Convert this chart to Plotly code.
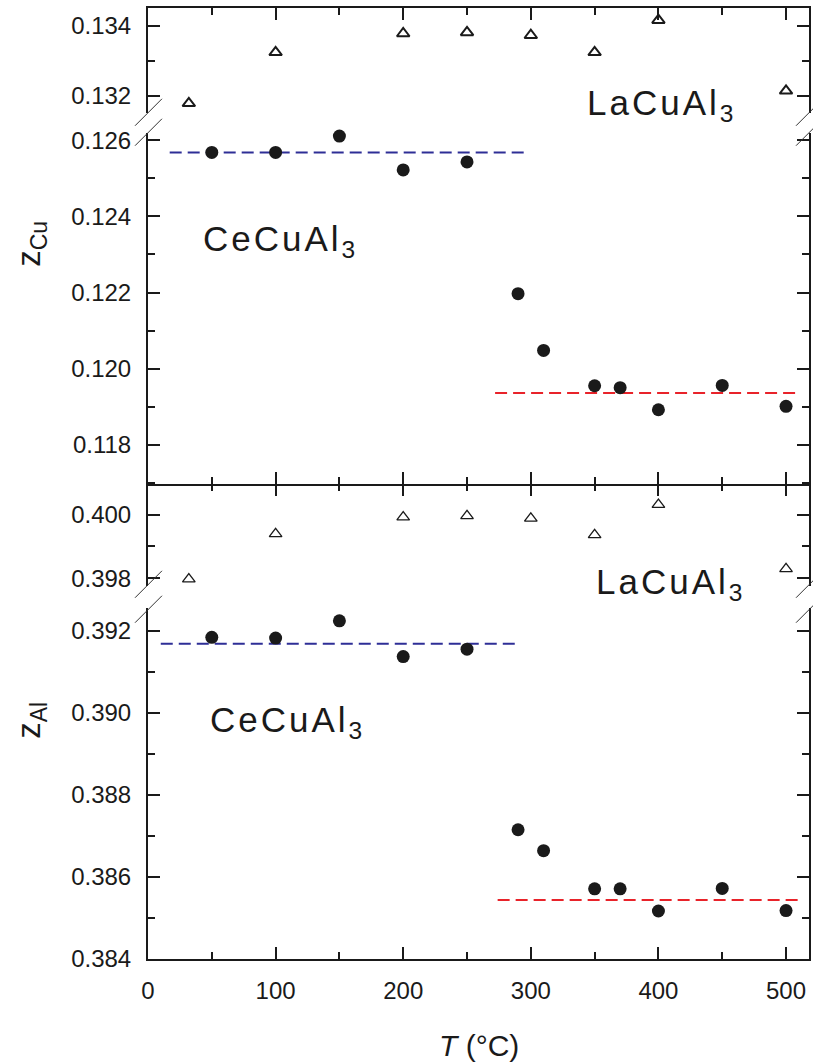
import plotly.graph_objects as go

# ---------------- data ----------------
T_la = [32, 100, 200, 250, 300, 350, 400, 500]
zcu_la = [0.13178, 0.13324, 0.13378, 0.13381, 0.13373, 0.13324, 0.13416, 0.13214]
zal_la = [0.39797, 0.39939, 0.39992, 0.39996, 0.39988, 0.39936, 0.40031, 0.39829]

T_ce = [50, 100, 150, 200, 250, 290, 310, 350, 370, 400, 450, 500]
zcu_ce = [0.12568, 0.12568, 0.12611, 0.12522, 0.12543, 0.12197, 0.12048,
          0.11955, 0.11950, 0.11892, 0.11956, 0.11901]
zal_ce = [0.39184, 0.39182, 0.39224, 0.39137, 0.39155, 0.38715, 0.38664,
          0.38571, 0.38571, 0.38517, 0.38572, 0.38518]

cu_low_T = [17, 296]
cu_low_z = [0.12568, 0.12568]
cu_high_T = [272, 508]
cu_high_z = [0.11936, 0.11936]
al_low_T = [10, 288]
al_low_z = [0.39168, 0.39168]
al_high_T = [274, 510]
al_high_z = [0.38544, 0.38544]

x_ticks = [0, 100, 200, 300, 400, 500]

# ---------------- layout helpers (pixel -> paper) ----------------
W, H = 813, 1064
L, R, TOP, BOT = 148, 811, 6, 959
PW, PH = R - L, BOT - TOP


def px(x):
    return (x - L) / PW


def py(y):
    return (BOT - y) / PH


FONT = "Liberation Sans, Arial, Helvetica, sans-serif"
INK = "#1a1a1a"
BLUE = "#2e2e96"
RED = "#e8232a"

fig = go.Figure()

# top panel (z_Cu)
fig.add_trace(go.Scatter(x=T_la, y=zcu_la, xaxis="x3", yaxis="y", mode="markers",
                         marker=dict(symbol="triangle-up-open", size=11, color=INK,
                                     line=dict(width=2, color=INK)),
                         cliponaxis=False, showlegend=False))
fig.add_trace(go.Scatter(x=cu_low_T, y=cu_low_z, xaxis="x2", yaxis="y2", mode="lines",
                         line=dict(color=BLUE, width=2, dash="12px,6px"), showlegend=False))
fig.add_trace(go.Scatter(x=cu_high_T, y=cu_high_z, xaxis="x2", yaxis="y2", mode="lines",
                         line=dict(color=RED, width=2, dash="12px,6px"), showlegend=False))
fig.add_trace(go.Scatter(x=T_ce, y=zcu_ce, xaxis="x2", yaxis="y2", mode="markers",
                         marker=dict(symbol="circle", size=13, color=INK),
                         cliponaxis=False, showlegend=False))

# bottom panel (z_Al)
fig.add_trace(go.Scatter(x=T_la, y=zal_la, xaxis="x4", yaxis="y3", mode="markers",
                         marker=dict(symbol="triangle-up-open", size=11, color=INK,
                                     line=dict(width=1.3, color=INK)),
                         cliponaxis=False, showlegend=False))
fig.add_trace(go.Scatter(x=al_low_T, y=al_low_z, xaxis="x", yaxis="y4", mode="lines",
                         line=dict(color=BLUE, width=2, dash="12px,6px"), showlegend=False))
fig.add_trace(go.Scatter(x=al_high_T, y=al_high_z, xaxis="x", yaxis="y4", mode="lines",
                         line=dict(color=RED, width=2, dash="12px,6px"), showlegend=False))
fig.add_trace(go.Scatter(x=T_ce, y=zal_ce, xaxis="x", yaxis="y4", mode="markers",
                         marker=dict(symbol="circle", size=13, color=INK),
                         cliponaxis=False, showlegend=False))

axis_common = dict(showline=True, linewidth=2, linecolor=INK, ticks="inside",
                   ticklen=12, tickwidth=2, tickcolor=INK, showgrid=False,
                   zeroline=False, tickfont=dict(family=FONT, size=24, color=INK))
x_common = dict(axis_common, tickvals=x_ticks,
                minor=dict(dtick=50, tick0=0, ticklen=7, tickwidth=1.5,
                           ticks="inside", tickcolor=INK, showgrid=False))
y_common = dict(axis_common, mirror="ticks", tick0=0, dtick=0.002, tickformat=".3f",
                ticklabelstandoff=10,
                minor=dict(dtick=0.001, tick0=0, ticklen=7, tickwidth=1.5,
                           ticks="inside", tickcolor=INK, showgrid=False))

y1_dom = [py(111), 1.0]
y2_dom = [py(483), py(131)]
y3_dom = [py(585), py(483)]
y4_dom = [0.0, py(607)]

fig.update_layout(
    width=W, height=H,
    margin=dict(l=L, r=W - R, t=TOP, b=H - BOT),
    paper_bgcolor="white", plot_bgcolor="white",
    font=dict(family=FONT, color=INK),
    xaxis=dict(x_common, domain=[0, 1], range=[0, 518], anchor="y4", side="bottom",
               ticklabelstandoff=9),
    xaxis2=dict(x_common, domain=[0, 1], matches="x", anchor="y2", side="bottom",
                showticklabels=False),
    xaxis3=dict(x_common, domain=[0, 1], matches="x", anchor="y", side="top",
                showticklabels=False),
    xaxis4=dict(x_common, domain=[0, 1], matches="x", anchor="y3", side="top",
                showticklabels=False, showline=False),
    yaxis=dict(y_common, domain=y1_dom, range=[0.13151, 0.13451], anchor="x3"),
    yaxis2=dict(y_common, domain=y2_dom, range=[0.11697, 0.126197], anchor="x2"),
    yaxis3=dict(y_common, domain=y3_dom, range=[0.39776, 0.40096], anchor="x4"),
    yaxis4=dict(y_common, domain=y4_dom, range=[0.384, 0.39256], anchor="x"),
)

# axis-break slashes (left and right edges)
shapes = []
for xc in (L, R):
    for yc in (111, 131, 584, 609):
        shapes.append(dict(type="line", xref="paper", yref="paper",
                           x0=px(xc - 13), y0=py(yc + 13), x1=px(xc + 14), y1=py(yc - 14),
                           line=dict(color="#333333", width=1)))
fig.update_layout(shapes=shapes)

SP = "<span style='letter-spacing:3px'>{}</span>"
ann = []
ann.append(dict(text=SP.format("LaCuAl") + "<sub>3</sub>", x=px(586), y=py(103),
                xref="paper", yref="paper",
                xanchor="left", yanchor="middle", showarrow=False,
                font=dict(family=FONT, size=35, color=INK)))
ann.append(dict(text=SP.format("CeCuAl") + "<sub>3</sub>", x=px(201), y=py(239),
                xref="paper", yref="paper",
                xanchor="left", yanchor="middle", showarrow=False,
                font=dict(family=FONT, size=35, color=INK)))
ann.append(dict(text=SP.format("LaCuAl") + "<sub>3</sub>", x=px(595), y=py(583),
                xref="paper", yref="paper",
                xanchor="left", yanchor="middle", showarrow=False,
                font=dict(family=FONT, size=35, color=INK)))
ann.append(dict(text=SP.format("CeCuAl") + "<sub>3</sub>", x=px(208), y=py(722),
                xref="paper", yref="paper",
                xanchor="left", yanchor="middle", showarrow=False,
                font=dict(family=FONT, size=35, color=INK)))
ann.append(dict(text="z<sub>Cu</sub>", x=px(30), y=py(242), xref="paper", yref="paper",
                xanchor="center", yanchor="middle", showarrow=False, textangle=-90,
                font=dict(family=FONT, size=33, color=INK)))
ann.append(dict(text="z<sub>Al</sub>", x=px(30), y=py(720), xref="paper", yref="paper",
                xanchor="center", yanchor="middle", showarrow=False, textangle=-90,
                font=dict(family=FONT, size=33, color=INK)))
ann.append(dict(text="<i>T</i> (°C)", x=px(480), y=py(1046), xref="paper", yref="paper",
                xanchor="center", yanchor="middle", showarrow=False,
                font=dict(family=FONT, size=30, color=INK)))
fig.update_layout(annotations=ann)

fig.write_html("out.html")
